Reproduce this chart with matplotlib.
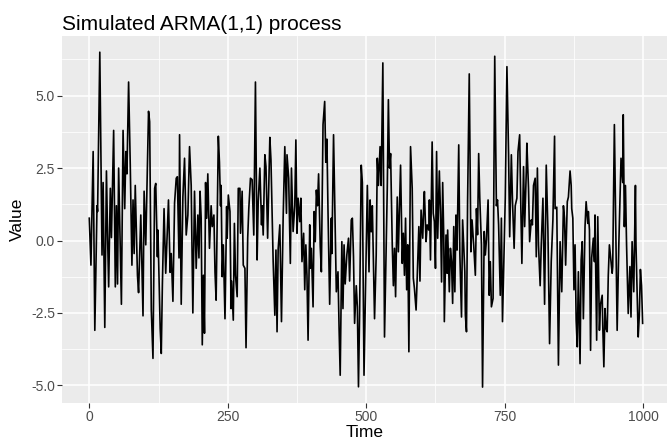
import matplotlib
matplotlib.use("Agg")

import matplotlib.pyplot as plt
from matplotlib.ticker import MultipleLocator

# Series (time, value) - peaks and troughs of the zigzag
time = [
    0, 3, 7, 10, 14, 15, 19, 23, 25, 28, 31, 33, 35, 38, 40, 44, 47, 49, 51, 53,
    58, 61, 64, 66, 68, 71, 74, 77, 79, 81, 83, 87, 89, 93, 97, 99, 102, 107, 109, 112,
    115, 118, 120, 123, 124, 128, 130, 132, 135, 138, 140, 143, 146, 148, 151, 154, 157, 159, 162,
    163, 166, 169, 172, 175, 178, 181, 184, 187, 190, 193, 196, 198, 200, 202, 204, 206, 208, 210,
    212, 214, 217, 220, 222, 225, 227, 229, 233, 235, 237, 238, 240, 242, 245, 248, 249, 251, 254,
    256, 257, 260, 262, 264, 267, 269, 272, 273, 276, 278, 281, 283, 286, 288, 291, 294, 297, 300,
    303, 305, 308, 311, 312, 314, 317, 319, 322, 326, 328, 332,
    335, 337, 339, 341, 344, 347, 350, 353, 356, 357, 360, 363, 365, 368, 371, 373, 375, 377, 380,
    382, 384, 387, 389, 391, 393, 395, 398, 399, 401, 404, 406, 408, 410, 412, 414, 417, 419, 422,
    425, 427, 429, 431, 434, 437, 438, 441, 444, 446, 449, 451, 453, 456, 458, 460, 462, 465, 468,
    470, 473, 475, 477, 479, 482, 484, 486, 488, 491, 493, 496, 500, 502,
    505, 507, 509, 511, 515, 518, 520, 522, 525, 527, 530, 533, 535, 538, 540, 542, 544, 547, 549,
    551, 553, 556, 558, 560, 562, 565, 567, 569, 571, 573, 575, 577, 580, 583, 585, 587, 590, 592,
    595, 597, 599, 602, 604, 605, 608, 610, 613, 614, 616, 619, 621, 623, 625, 627, 629, 632, 634,
    636, 638, 640, 641, 644, 646, 647, 650, 652, 654, 656, 658, 660, 662, 664, 667, 669, 672, 674,
    678, 679, 681, 683, 686, 689, 691, 694, 697, 699, 701, 703, 705, 708, 710, 713, 715, 717, 720,
    722, 724, 726, 729, 732, 735, 737, 739, 742, 744, 746, 751, 754, 757, 759, 762, 764, 767, 769,
    772, 774, 777, 779, 781, 784, 786, 789, 790, 793, 795, 798, 800, 802, 805, 807, 809, 811, 814,
    816, 819, 822, 825, 828, 831, 834, 837, 840, 841, 844,
    847, 850, 853, 856, 858, 860, 863, 865, 868, 870, 871, 873, 875, 877, 879, 881, 883, 886, 888,
    890, 892, 895, 897, 900, 901, 903, 905, 907, 910, 912, 913, 916, 918, 921, 923, 926, 927, 929,
    931, 933, 935, 937, 939, 942, 944, 945, 948, 951, 953, 956, 959, 960, 963, 964, 966, 968, 970,
    973, 976, 978, 980, 983, 986, 987, 991, 993, 995, 997, 999,
]
value = [
    0.77, -0.85, 3.07, -3.1, 1.2, 1.0, 6.5, -0.5, 2.0, -3.0, 2.4, 0.2, -1.6, 1.8, 0.1, 3.8, -1.6, 1.2, -1.5, 2.5,
    -2.2, 3.8, 1.1, 3.07, 2.3, 5.47, 2.6, -0.85, 1.4, -0.45, 1.9, -1.2, -1.8, 0.88, -2.6, 1.7, -0.15, 4.46, 4.1, -2.4,
    -4.07, 1.8, 1.97, -0.56, 0.36, -3.04, -3.9, -1.5, 1.1, -1.13, -0.15, 1.4, -1.1, -0.45, -2.1, 1.3, 2.15, 2.2, -0.6,
    3.65, -2.2, 1.5, 2.84, 0.19, 0.88, 3.24, 1.9, -2.5, 1.7, -0.96, 0.88, -0.6, 1.7, 0.77, -3.6, -1.2, -3.2, 2.0,
    0.77, 2.3, -0.27, 1.2, 0.48, 0.88, -1.1, -2.06, 3.6, 2.7, 1.2, 1.9, -1.25, -0.15, -2.7, 1.17, 0.08, 1.57, 1.0,
    -2.35, -1.4, -2.75, 0.59, -1.2, -1.94, 1.8, 1.8, 0.25, 1.7, -0.85, -0.96, -3.7, 0.08, 1.1, 2.15, 2.1, 0.19, 5.47,
    -0.67, 1.34, 2.5, 0.54, 1.2, 0.19, 2.96, 2.55, 0.08, 3.56, 2.78, -0.73,
    -2.58, -0.33, -3.15, -0.3, 0.54, -2.8, 0.77, 3.24, 0.94, 2.96, 2.15, -0.79, 2.5, 0.31, 1.2, 3.47, 0.25, 1.46, 0.65,
    1.46, -0.73, 0.25, -1.7, -0.15, -1.2, -3.44, 0.54, -0.96, -0.27, -2.29, 1.0, -0.04, 1.74, 1.2, 2.3, -0.21, -1.08, 4.0,
    4.8, 2.7, 3.5, 1.0, -2.2, 0.77, -0.45, 3.65, 0.31, -1.77, -1.08, -3.04, -4.65, -0.04, -2.35, -0.15, -1.5, -0.5, 0.08,
    -1.4, 0.71, 0.77, -0.56, -2.86, -1.56, -2.29, -5.05, -2.58, 2.6, 2.0, -4.65, -0.39, 1.9,
    -1.08, 1.4, 0.3, 1.2, -2.7, -0.5, 2.84, 1.9, 3.24, 1.9, 6.13, -3.33, -1.3, 1.8, 4.86, 2.5, 3.0, -0.15, -1.56,
    -0.27, -1.94, 1.5, -0.39, 1.17, 2.6, -0.79, 0.25, -1.2, 0.77, -1.7, -0.15, -3.84, 3.24, 1.8, -1.3, -1.65, -2.4, -1.3,
    0.48, -1.4, 1.05, 0.08, 1.34, 1.69, -0.04, 0.54, 0.36, 1.4, -0.67, 3.4, 0.94, 0.65, -0.96, 3.07, 0.08, 2.4, 1.0,
    -1.43, 2.0, 0.08, -2.8, 0.19, -1.13, 0.36, -1.77, -0.27, -0.73, -2.17, 0.48, -1.77, 0.88, -0.33, 3.3, -0.45, -2.64, 0.71,
    -1.08, -2.58, -3.15, 1.35, 5.75, -0.39, 0.71, -0.15, -1.2, 1.1, 0.2, 3.0, 1.46, -0.15, -5.06, 0.31, -0.5, 0.02, 1.4,
    -1.89, -0.73, -2.29, -2.0, 6.36, 1.2, 1.4, 0.54, -1.89, 0.77, -2.8, 1.46, 6.0, 2.96, 0.13, 2.96, 1.4, -0.27, 1.2,
    1.46, 3.07, 3.65, 1.28, -0.79, 2.55, 0.48, 2.4, 3.36, 1.8, -0.04, 0.71, 0.54, 1.9, 2.15, -0.56, 2.5, -0.15, -1.56,
    -0.15, 1.46, -2.2, 2.6, 0.36, -3.56, -0.73, 0.71, 3.6, 1.1, 1.15,
    -4.3, -0.04, -1.77, 1.2, 0.77, -0.85, 1.34, 1.5, 2.4, 1.9, 1.1, 0.77, -1.7, -0.15, -2.75, -3.67, -1.08, -4.25, -0.67,
    -0.04, -2.7, 0.48, 1.34, 0.59, 1.0, 0.36, -3.79, -0.6, 0.08, -0.73, 0.88, -3.44, 0.82, -3.1, -2.2, -1.89, -2.92, -4.36,
    -2.35, -3.04, -3.15, -1.2, -0.15, -0.75, -1.13, -0.9, 4.0, -0.39, -3.1, -0.15, 2.0, 2.84, 2.0, 4.34, 0.48, 1.9, -0.15,
    -2.52, -0.9, -2.64, -0.04, -1.77, 1.9, -0.15, -3.33, -2.58, -1.0, -1.56, -2.86,
]

x_ticks = [0, 250, 500, 750, 1000]
y_ticks = [-5.0, -2.5, 0.0, 2.5, 5.0]

plt.rcParams["font.family"] = ["Liberation Sans", "DejaVu Sans"]

fig = plt.figure(figsize=(6.67, 4.41), dpi=100)
ax = fig.add_axes([0.0934, 0.0868, 0.9066, 0.8316])

# ggplot grey panel with white grid
ax.set_facecolor("#EBEBEB")
ax.set_axisbelow(True)
ax.xaxis.set_minor_locator(MultipleLocator(125))
ax.yaxis.set_minor_locator(MultipleLocator(1.25))
ax.grid(which="major", color="white", linewidth=1.1)
ax.grid(which="minor", color="white", linewidth=0.55)
for s in ax.spines.values():
    s.set_visible(False)

ax.plot(time, value, color="black", linewidth=1.2)

ax.set_xlim(-48.7, 1043)
ax.set_ylim(-5.6, 7.06)
ax.set_xticks(x_ticks)
ax.set_xticklabels([str(t) for t in x_ticks])
ax.set_yticks(y_ticks)
ax.set_yticklabels([f"{t:.1f}" for t in y_ticks])
ax.tick_params(which="major", length=3.3, width=0.8, color="#333333",
               labelsize=10, labelcolor="#4D4D4D", pad=2)
ax.tick_params(which="minor", length=0)

ax.set_xlabel("Time", fontsize=12.5, labelpad=1)
ax.set_ylabel("Value", fontsize=12.5, labelpad=4)
ax.set_title("Simulated ARMA(1,1) process", loc="left", fontsize=15, pad=4)

fig.savefig("out.png", dpi=100)
